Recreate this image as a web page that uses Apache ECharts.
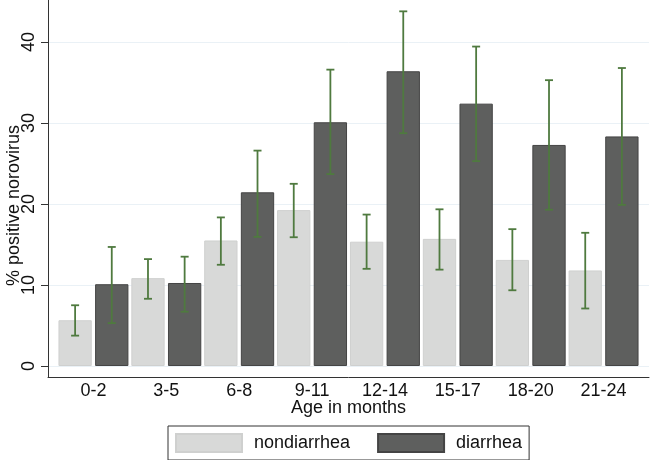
<!DOCTYPE html>
<html>
<head>
<meta charset="utf-8">
<script src="https://cdn.jsdelivr.net/npm/echarts@6/dist/echarts.min.js"></script>
<style>html,body{margin:0;padding:0;background:#fff}#c{width:650px;height:460px}</style>
</head>
<body>
<div id="c"></div>
<script>
var categories = ['0-2','3-5','6-8','9-11','12-14','15-17','18-20','21-24'];
var nondiarrhea = [5.65, 10.85, 15.5, 19.25, 15.35, 15.7, 13.1, 11.8];
var nondiarrheaLow = [3.75, 8.3, 12.5, 15.9, 12.0, 11.9, 9.35, 7.1];
var nondiarrheaHigh = [7.5, 13.2, 18.35, 22.5, 18.7, 19.35, 16.9, 16.45];
var diarrhea = [10.1, 10.25, 21.45, 30.1, 36.4, 32.4, 27.3, 28.35];
var diarrheaLow = [5.3, 6.7, 15.95, 23.7, 28.75, 25.3, 19.3, 19.9];
var diarrheaHigh = [14.7, 13.5, 26.6, 36.6, 43.8, 39.45, 35.3, 36.8];
var yTicks = [0, 10, 20, 30, 40];

var FONT = 'Liberation Sans';
var FS = 18;
var YMIN = -1.36, YMAX = 45.2;
var ERR = '#4f7a3f';
var CAT_GAP = 0.04, BAR_GAP = 0.10;

var errData = [];
categories.forEach(function (c, i) {
  errData.push([i, nondiarrheaLow[i], nondiarrheaHigh[i], -1]);
  errData.push([i, diarrheaLow[i], diarrheaHigh[i], 1]);
});

function renderErr(params, api) {
  var i = api.value(0), lo = api.value(1), hi = api.value(2), side = api.value(3);
  var band = api.size([1, 0])[0];
  var bw = band * (1 - CAT_GAP) / (2 + BAR_GAP);
  var off = side * (bw + bw * BAR_GAP) / 2;
  var pLo = api.coord([i, lo]);
  var pHi = api.coord([i, hi]);
  var x = pLo[0] + off;
  var cap = 4;
  var st = { stroke: ERR, lineWidth: 1.8 };
  return {
    type: 'group',
    children: [
      { type: 'line', shape: { x1: x, y1: pLo[1], x2: x, y2: pHi[1] }, style: st },
      { type: 'line', shape: { x1: x - cap, y1: pHi[1], x2: x + cap, y2: pHi[1] }, style: st },
      { type: 'line', shape: { x1: x - cap, y1: pLo[1], x2: x + cap, y2: pLo[1] }, style: st }
    ]
  };
}

var chart = echarts.init(document.getElementById('c'), null, { renderer: 'canvas' });
chart.setOption({
  animation: false,
  backgroundColor: '#fff',
  textStyle: { fontFamily: FONT },
  grid: [
    { left: 48, right: 1, top: 0, bottom: 83, containLabel: false, outerBoundsMode: 'none' },
    { left: 57, right: 10, top: 0, bottom: 83, containLabel: false, outerBoundsMode: 'none' }
  ],
  xAxis: [
    {
      gridIndex: 0, type: 'value', min: 0, max: 1,
      axisLine: { show: true, onZero: false, lineStyle: { color: '#333', width: 1 } },
      axisTick: { show: false }, axisLabel: { show: false }, splitLine: { show: false }
    },
    {
      gridIndex: 1, type: 'category', data: categories,
      axisLine: { show: false, onZero: false }, axisTick: { show: false },
      axisLabel: { color: '#111', fontSize: FS, fontFamily: FONT, margin: 5 },
      name: 'Age in months', nameLocation: 'middle', nameGap: 22, nameMoveOverlap: false,
      nameTextStyle: { color: '#111', fontSize: FS, fontFamily: FONT }
    }
  ],
  yAxis: [
    {
      gridIndex: 0, type: 'value', min: YMIN, max: YMAX,
      axisLine: { show: true, onZero: false, lineStyle: { color: '#333', width: 1 } },
      axisTick: { show: true, length: 7, inside: false, customValues: yTicks, lineStyle: { color: '#333' } },
      axisLabel: { show: true, rotate: 90, customValues: yTicks, color: '#111', fontSize: FS, fontFamily: FONT, margin: 10 },
      splitLine: { show: true, lineStyle: { color: '#eaf1f6', width: 1 } },
      name: '% positive norovirus', nameLocation: 'middle', nameGap: 25, nameMoveOverlap: false,
      nameTextStyle: { color: '#111', fontSize: FS, fontFamily: FONT, padding: [0, 34, 0, 0] }
    },
    {
      gridIndex: 1, type: 'value', min: YMIN, max: YMAX, show: false,
      axisLine: { onZero: false },
      splitLine: { show: false }
    }
  ],
  legend: {
    data: ['nondiarrhea', 'diarrhea'],
    left: 168, top: 426,
    orient: 'horizontal',
    icon: 'rect',
    itemWidth: 66, itemHeight: 18, itemGap: 27,
    padding: [7, 7, 7, 7],
    borderColor: '#333', borderWidth: 1,
    textStyle: { color: '#111', fontSize: FS, fontFamily: FONT, padding: [0, 0, 0, 7] }
  },
  series: [
    {
      name: 'nondiarrhea', type: 'bar', xAxisIndex: 1, yAxisIndex: 1,
      data: nondiarrhea, barGap: (BAR_GAP * 100) + '%', barCategoryGap: (CAT_GAP * 100) + '%',
      itemStyle: { color: '#d8d9d8', borderColor: '#cfd0cf', borderWidth: 1 }
    },
    {
      name: 'diarrhea', type: 'bar', xAxisIndex: 1, yAxisIndex: 1,
      data: diarrhea, barGap: (BAR_GAP * 100) + '%', barCategoryGap: (CAT_GAP * 100) + '%',
      itemStyle: { color: '#5e5f5e', borderColor: '#444', borderWidth: 1 }
    },
    {
      name: 'ci', type: 'custom', xAxisIndex: 1, yAxisIndex: 1,
      renderItem: renderErr, data: errData, z: 5
    }
  ]
});
</script>
</body>
</html>
